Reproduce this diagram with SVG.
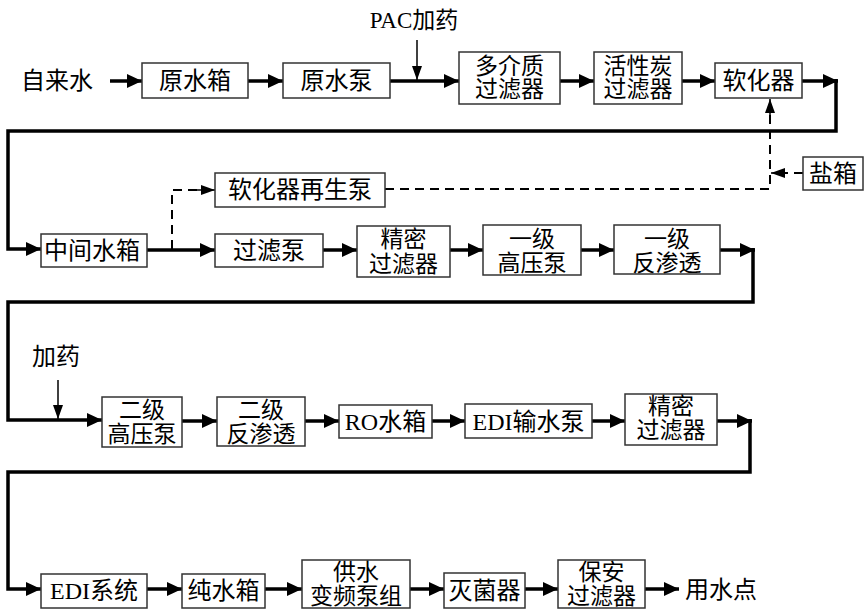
<svg xmlns="http://www.w3.org/2000/svg" width="865" height="614" viewBox="0 0 865 614">
<defs>
<marker id="ah" markerUnits="userSpaceOnUse" markerWidth="16" markerHeight="16" refX="15" refY="7" orient="auto">
<path d="M0,0 L15,7 L0,14 z" fill="#000"/>
</marker>
<marker id="ahs" markerUnits="userSpaceOnUse" markerWidth="16" markerHeight="12" refX="14" refY="5" orient="auto">
<path d="M0,0 L14,5 L0,10 z" fill="#000"/>
</marker>
<style>
.box{fill:#fff;stroke:#333;stroke-width:1.5}
.t{font-family:"Liberation Serif","Noto Sans CJK SC",serif;font-size:23px;fill:#000;text-anchor:middle}
.t24{font-size:24px}
.main{fill:none;stroke:#000;stroke-width:3.5}
.arr{marker-end:url(#ah)}
.thin{fill:none;stroke:#000;stroke-width:1.5;marker-end:url(#ahs)}
.dash{fill:none;stroke:#000;stroke-width:2;stroke-dasharray:9,6}
</style>
</defs>
<rect width="865" height="614" fill="#fff"/>

<g id="connectors">
<!-- row 1 -->
<line class="main arr" x1="110" y1="81" x2="142" y2="81"/>
<line class="main arr" x1="248" y1="81" x2="283" y2="81"/>
<line class="main arr" x1="390" y1="81" x2="459" y2="81"/>
<line class="thin" x1="417" y1="40" x2="417" y2="80"/>
<line class="main arr" x1="560" y1="81" x2="594" y2="81"/>
<line class="main arr" x1="682" y1="81" x2="715" y2="81"/>
<line class="main arr" x1="802" y1="81" x2="838" y2="81"/>
<path class="main arr" d="M836,79 V131 H8 V249 H41"/>
<!-- softener regeneration -->
<path class="dash" d="M172,249 V190 H200"/>
<line class="thin" x1="196" y1="190" x2="215" y2="190"/>
<path class="dash" d="M385,189 H770 V110"/>
<line class="thin" x1="770" y1="118" x2="770" y2="99"/>
<line class="dash" x1="803" y1="173" x2="785" y2="173"/>
<line class="thin" x1="788" y1="173" x2="771" y2="173"/>
<!-- row 2 -->
<line class="main arr" x1="147" y1="250" x2="215" y2="250"/>
<line class="main arr" x1="323" y1="250" x2="357" y2="250"/>
<line class="main arr" x1="450" y1="250" x2="483" y2="250"/>
<line class="main arr" x1="581" y1="250" x2="614" y2="250"/>
<line class="main arr" x1="720" y1="250" x2="755" y2="250"/>
<path class="main arr" d="M753,248 V302 H8 V420 H102"/>
<line class="thin" x1="58" y1="380" x2="58" y2="419"/>
<!-- row 3 -->
<line class="main arr" x1="182" y1="421" x2="217" y2="421"/>
<line class="main arr" x1="305" y1="421" x2="339" y2="421"/>
<line class="main arr" x1="432" y1="421" x2="465" y2="421"/>
<line class="main arr" x1="592" y1="421" x2="625" y2="421"/>
<line class="main arr" x1="717" y1="421" x2="752" y2="421"/>
<path class="main arr" d="M750,419 V472 H8 V589 H41"/>
<!-- row 4 -->
<line class="main arr" x1="147" y1="589" x2="182" y2="589"/>
<line class="main arr" x1="265" y1="589" x2="302" y2="589"/>
<line class="main arr" x1="410" y1="589" x2="444" y2="589"/>
<line class="main arr" x1="525" y1="589" x2="558" y2="589"/>
<line class="main arr" x1="645" y1="589" x2="679" y2="589"/>
</g>

<g id="label-tap"><text class="t t24" x="57" y="89">自来水</text></g>
<g id="label-pac"><text class="t" x="414" y="28">PAC加药</text></g>
<g id="n-yuanshuixiang"><rect class="box" x="142" y="63" width="106" height="35"/><text class="t t24" x="195" y="89">原水箱</text></g>
<g id="n-yuanshuibeng"><rect class="box" x="283" y="63" width="107" height="35"/><text class="t t24" x="336.5" y="89">原水泵</text></g>
<g id="n-duojiezhi"><rect class="box" x="459" y="52" width="101" height="52"/><text class="t" x="509.5" y="74">多介质</text><text class="t" x="509.5" y="97">过滤器</text></g>
<g id="n-huoxingtan"><rect class="box" x="594" y="52" width="88" height="52"/><text class="t" x="638" y="74">活性炭</text><text class="t" x="638" y="97">过滤器</text></g>
<g id="n-ruanhuaqi"><rect class="box" x="715" y="63" width="87" height="35"/><text class="t t24" x="758.5" y="89">软化器</text></g>
<g id="n-yanxiang"><rect class="box" x="803" y="157" width="60" height="33"/><text class="t t24" x="833" y="182">盐箱</text></g>
<g id="n-zaishengbeng"><rect class="box" x="215" y="173" width="170" height="34"/><text class="t t24" x="300" y="198">软化器再生泵</text></g>
<g id="n-zhongjian"><rect class="box" x="41" y="234" width="106" height="33"/><text class="t t24" x="92" y="259">中间水箱</text></g>
<g id="n-guolvbeng"><rect class="box" x="215" y="234" width="108" height="33"/><text class="t t24" x="269" y="259">过滤泵</text></g>
<g id="n-jingmi1"><rect class="box" x="357" y="226" width="93" height="51"/><text class="t" x="403.5" y="247">精密</text><text class="t" x="403.5" y="272">过滤器</text></g>
<g id="n-gaoya1"><rect class="box" x="483" y="225" width="98" height="50"/><text class="t" x="532" y="247">一级</text><text class="t" x="532" y="271">高压泵</text></g>
<g id="n-fanshentou1"><rect class="box" x="614" y="225" width="106" height="49"/><text class="t" x="667" y="247">一级</text><text class="t" x="667" y="271">反渗透</text></g>
<g id="label-jiayao"><text class="t t24" x="56" y="365">加药</text></g>
<g id="n-gaoya2"><rect class="box" x="102" y="397" width="80" height="50"/><text class="t" x="142" y="418">二级</text><text class="t" x="142" y="442">高压泵</text></g>
<g id="n-fanshentou2"><rect class="box" x="217" y="397" width="88" height="49"/><text class="t" x="261" y="418">二级</text><text class="t" x="261" y="442">反渗透</text></g>
<g id="n-ro"><rect class="box" x="339" y="405" width="93" height="33"/><text class="t t24" x="385.5" y="430">RO水箱</text></g>
<g id="n-edibeng"><rect class="box" x="465" y="404" width="127" height="34"/><text class="t t24" x="528.5" y="430">EDI输水泵</text></g>
<g id="n-jingmi2"><rect class="box" x="625" y="394" width="92" height="51"/><text class="t" x="671" y="414">精密</text><text class="t" x="671" y="438">过滤器</text></g>
<g id="n-edi"><rect class="box" x="41" y="574" width="106" height="34"/><text class="t t24" x="94" y="599">EDI系统</text></g>
<g id="n-chunshui"><rect class="box" x="182" y="574" width="83" height="34"/><text class="t t24" x="223.5" y="599">纯水箱</text></g>
<g id="n-gongshui"><rect class="box" x="302" y="560" width="108" height="48"/><text class="t" x="356" y="580">供水</text><text class="t" x="356" y="604">变频泵组</text></g>
<g id="n-miejun"><rect class="box" x="444" y="573" width="81" height="35"/><text class="t t24" x="484.5" y="599">灭菌器</text></g>
<g id="n-baoan"><rect class="box" x="558" y="560" width="87" height="48"/><text class="t" x="601.5" y="580">保安</text><text class="t" x="601.5" y="604">过滤器</text></g>
<g id="label-use"><text class="t t24" x="721" y="598">用水点</text></g>
</svg>
